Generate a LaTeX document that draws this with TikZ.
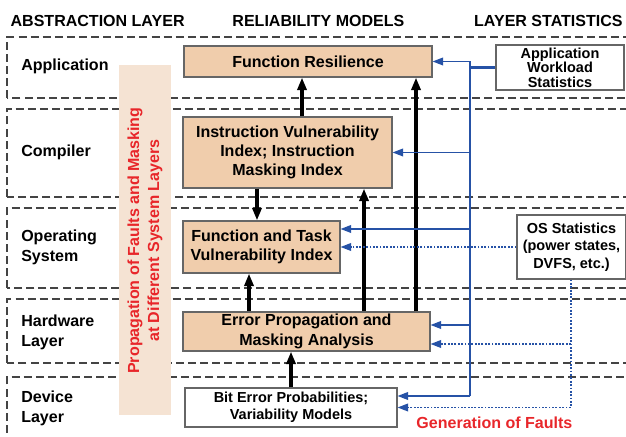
\documentclass[tikz,border=0pt]{standalone}
\usepackage{fontspec}
\setmainfont{Liberation Sans}
\usepackage{tikz}
\usetikzlibrary{arrows.meta}
\usetikzlibrary{positioning}
\definecolor{peach}{RGB}{240,205,172}
\definecolor{bandpeach}{RGB}{245,227,211}
\definecolor{faultred}{RGB}{232,38,42}
\definecolor{statblue}{RGB}{38,82,166}
\definecolor{layergray}{RGB}{68,68,68}

\tikzset{
  head/.style={font=\bfseries\fontsize{11.4}{13.6}\selectfont, inner sep=0pt},
  layername/.style={anchor=west, align=left, inner sep=0pt,
    font=\bfseries\fontsize{11.4}{14.2}\selectfont},
  layerbox/.style={draw=layergray, line width=1.1pt, dash pattern=on 5.7pt off 2.9pt},
  model/.style={draw=black!60, fill=peach, line width=0.8pt, inner sep=0pt,
    align=center, font=\bfseries\fontsize{11.4}{13.6}\selectfont},
  statbox/.style={draw=black!60, fill=white, line width=0.8pt, inner sep=0pt,
    align=center, font=\bfseries\fontsize{10.3}{12.2}\selectfont},
  upflow/.style={line width=2.4pt, -{Triangle[length=9pt, width=6.5pt]}},
  bus/.style={statblue, line width=1.5pt},
  feed/.style={statblue, line width=1pt, -{Triangle[length=7.5pt, width=5.5pt]}},
  osfeed/.style={feed, dash pattern=on 1.3pt off 1.1pt},
}

\begin{document}
\begin{tikzpicture}
  \path[use as bounding box] (0, 0) rectangle (15.65, 10.925);

  \node[head] (hlayer) at (2.44, 10.4) {ABSTRACTION LAYER};
  \node[head] (hmodel) at (7.96, 10.4) {RELIABILITY MODELS};
  \node[head] (hstat)  at (13.71, 10.4) {LAYER STATISTICS};

  % dashed layer frames, open to the right
  \begin{scope}
    \clip (0, 0) rectangle (15.65, 10.925);
    \foreach \t/\b in {10.0/8.475, 8.2/6.0, 5.725/3.725, 3.45/1.85, 1.5/-0.5}
    \draw[layerbox] (0.175, \b) rectangle (16.5, \t);
  \end{scope}

  \node[layername] (lapp) at (0.525, 9.275) {Application};
  \node[layername] (lcomp) at (0.525, 7.125) {Compiler};
  \node[layername] (los) at (0.525, 4.75) {Operating\\System};
  \node[layername] (lhw) at (0.525, 2.625) {Hardware\\Layer};
  \node[layername] (ldev) at (0.525, 0.725) {Device\\Layer};

  \fill[bandpeach] (2.975, 0.55) rectangle (4.275, 9.3);
  \node[rotate=90, align=center, text=faultred, inner sep=0pt,
    font=\bfseries\fontsize{11.4}{14.2}\selectfont] (prop) at (3.625, 4.91)
    {Propagation of Faults and Masking\\at Different System Layers};

  % reliability models
  \node[model, minimum width=6.2cm, minimum height=0.775cm] (resil) at (7.7, 9.3875)
    {Function Resilience};
  \node[model, minimum width=5.225cm, minimum height=1.775cm] (instr) at (7.1875, 7.1125)
    {Instruction Vulnerability\\Index; Instruction\\Masking Index};
  \node[model, minimum width=3.925cm, minimum height=1.3cm] (task) at (6.5375, 4.75)
    {Function and Task\\Vulnerability Index};
  \node[model, minimum width=6.175cm, minimum height=0.975cm, font=\bfseries\fontsize{11.4}{14.2}\selectfont]
    (errprop) at (7.6625, 2.6375) {Error Propagation and\\Masking Analysis};
  \node[statbox, minimum width=5.3cm, minimum height=0.975cm] (biterr) at (7.275, 0.7375)
    {Bit Error Probabilities;\\Variability Models};

  % layer statistics
  \node[statbox, minimum width=3.2cm, minimum height=1.125cm,
    font=\bfseries\fontsize{10.3}{10.4}\selectfont] (appstat) at (14.0, 9.2375)
    {Application\\Workload\\Statistics};
  \node[statbox, minimum width=2.725cm, minimum height=1.6cm,
    font=\bfseries\fontsize{10.3}{12.4}\selectfont] (osstat) at (14.2875, 4.75)
    {OS Statistics\\(power states,\\DVFS, etc.)};
  \node[text=faultred, inner sep=0pt, font=\bfseries\fontsize{11.4}{13.6}\selectfont]
    (gen) at (12.36, 0.35) {Generation of Faults};

  % propagation between models
  \draw[upflow] (7.55, 0 |- instr.north) -- (7.55, 0 |- resil.south);
  \draw[upflow] (10.4, 0 |- errprop.north) -- (10.4, 0 |- resil.south);
  \draw[upflow] (9.1, 0 |- errprop.north) -- (9.1, 0 |- instr.south);
  \draw[upflow] (6.425, 0 |- instr.south) -- (6.425, 0 |- task.north);
  \draw[upflow] (6.225, 0 |- errprop.north) -- (6.225, 0 |- task.south);
  \draw[upflow] (biterr.north) -- (biterr.north |- errprop.south);

  % workload statistics bus
  \coordinate (bustop) at (11.75, 0 |- resil.east);
  \coordinate (taskin) at ([yshift=0.45cm]task.east);
  \coordinate (errin) at ([yshift=0.1625cm]errprop.east);
  \coordinate (errlow) at ([yshift=-0.3125cm]errprop.east);
  \coordinate (bitin) at ([yshift=0.2875cm]biterr.east);
  \draw[bus] (bustop) -- (bustop |- bitin);
  \draw[bus] (appstat.west) -- (appstat.west -| bustop);
  \draw[feed] (bustop) -- (resil.east);
  \draw[feed] (bustop |- instr.east) -- (instr.east);
  \draw[feed] (bustop |- taskin) -- (taskin);
  \draw[feed] (bustop |- errin) -- (errin);
  \draw[feed] (bustop |- bitin) -- (bitin);

  % OS statistics
  \coordinate (osdrop) at (14.275, 0 |- osstat.south);
  \draw[osfeed] (osstat.west) -- (task.east);
  \draw[osfeed] (osdrop) |- (biterr.east);
  \draw[osfeed] (osdrop |- errlow) -- (errlow);
\end{tikzpicture}
\end{document}
